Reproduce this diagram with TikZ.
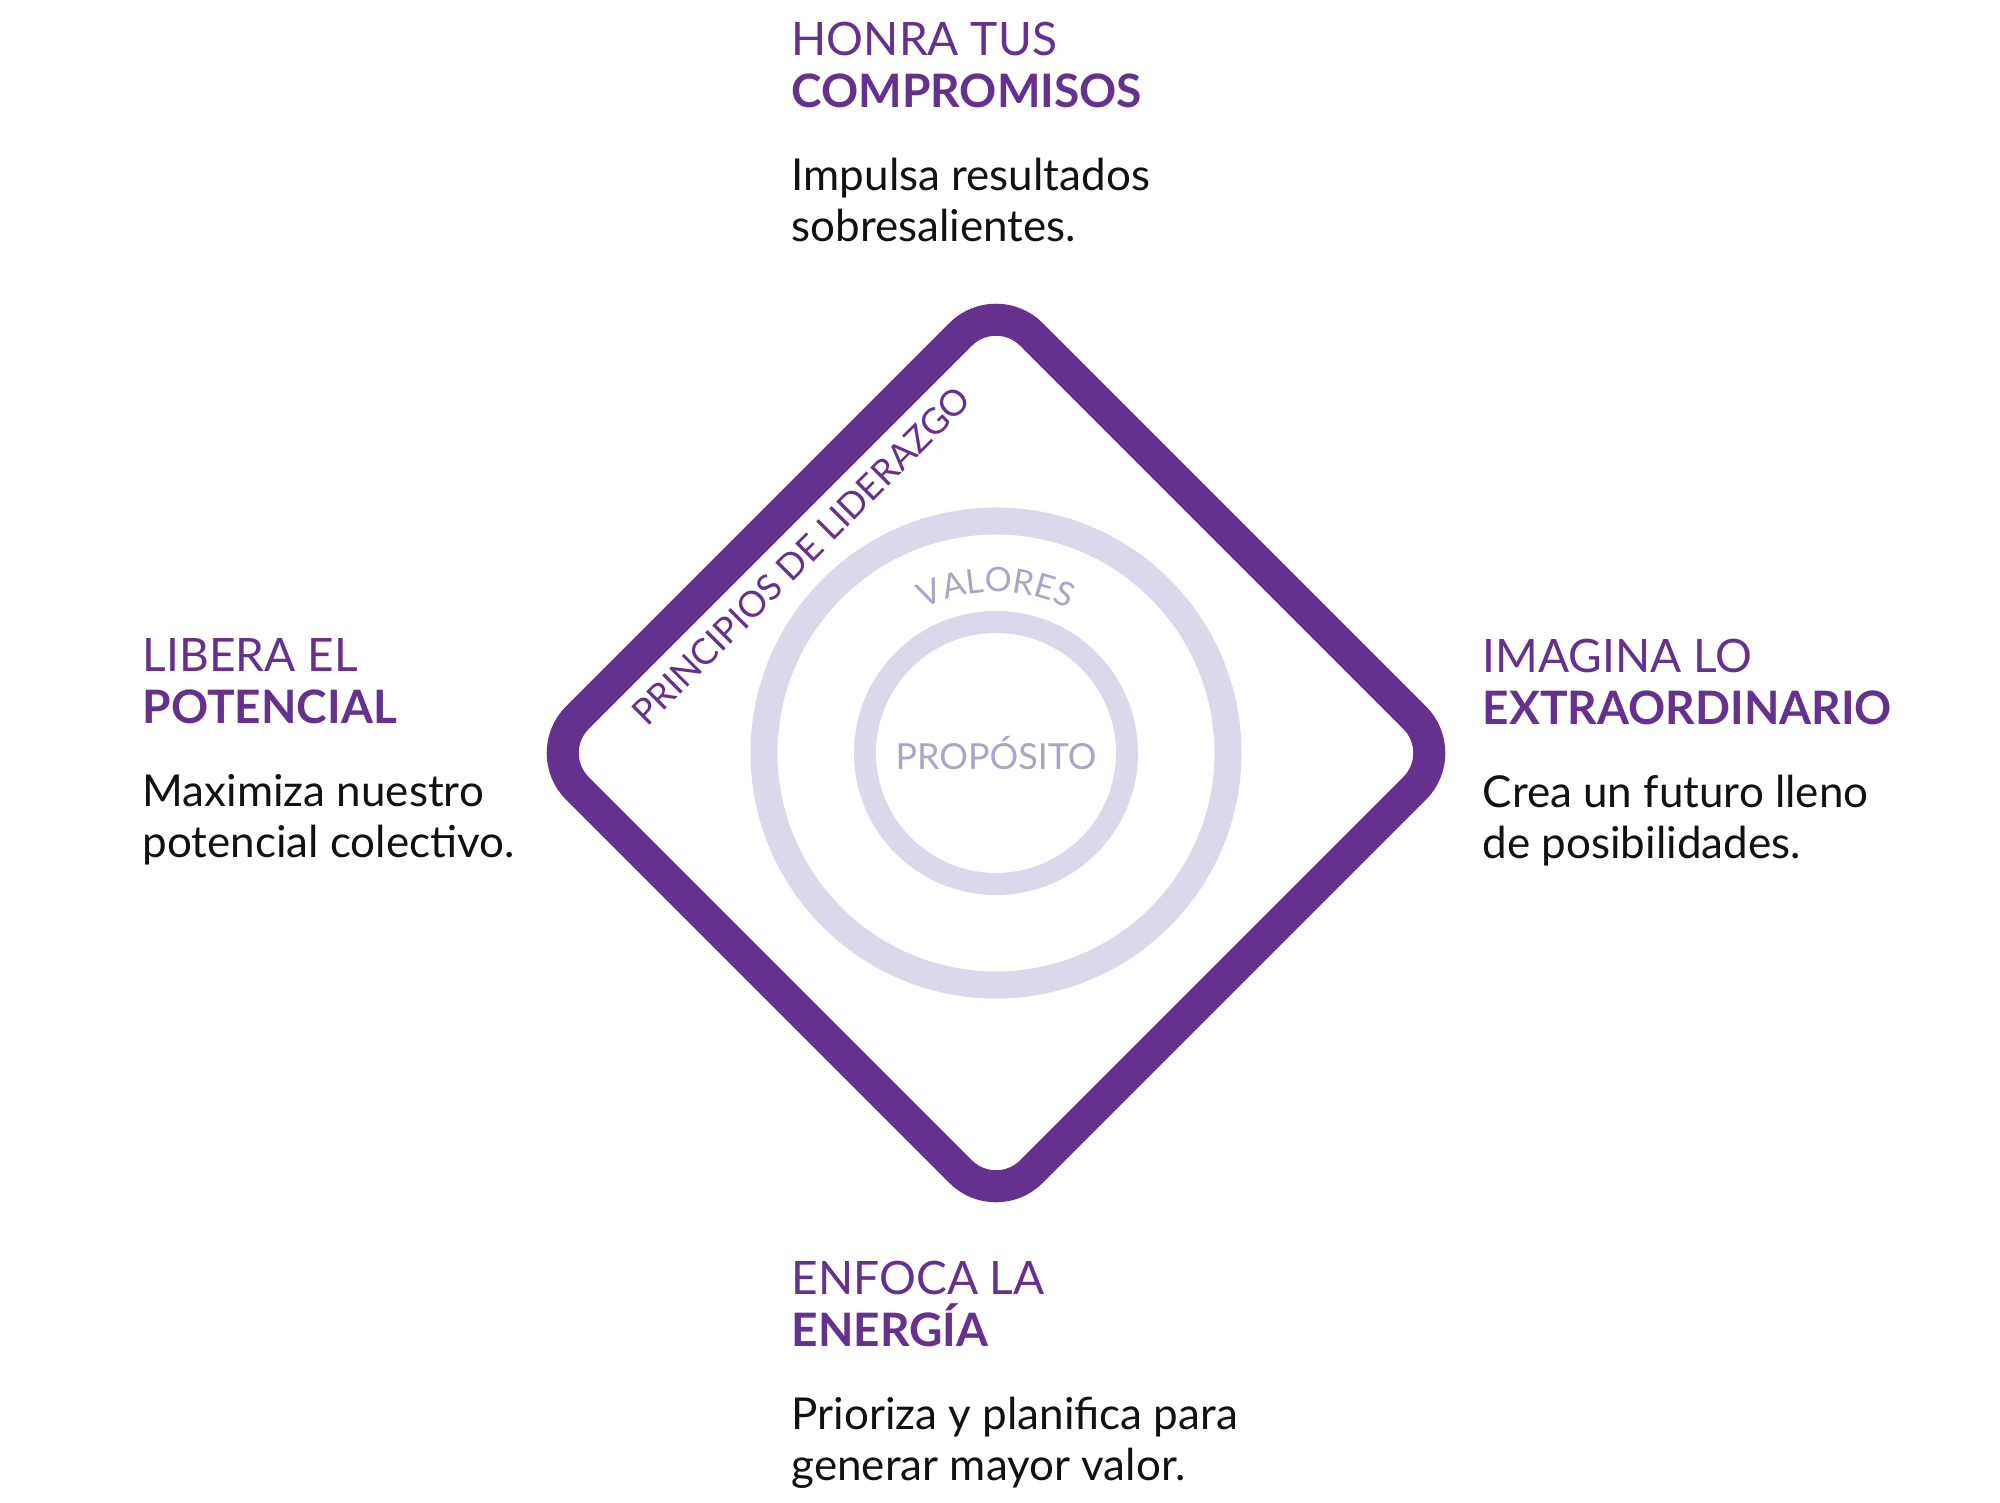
\documentclass[tikz,border=0pt]{standalone}
\usepackage{fontspec}
\setmainfont{Lato}
\usetikzlibrary{positioning, decorations.text}
\definecolor{PurpleA}{HTML}{66318E}
\definecolor{RingB}{HTML}{DAD8EB}
\definecolor{RingA}{HTML}{A9A5C8}
\definecolor{InkA}{HTML}{111111}
\tikzset{
  frame/.style={draw=PurpleA, line width=0.32cm, rounded corners=0.5cm,
                line join=round},
  ring/.style={draw=RingB},
  head/.style={anchor=north west, align=left, inner sep=0pt, text=PurpleA,
               font=\fontsize{13.1pt}{14.8pt}\selectfont},
  body/.style={align=left, inner sep=0pt, text=InkA,
               font=\fontsize{12.5pt}{14.6pt}\selectfont},
  ringlbl/.style={text=RingA, inner sep=0pt,
                  font=\fontsize{10.2pt}{12pt}\selectfont},
  edgelbl/.style={text=PurpleA, inner sep=0pt, rotate=45,
                  font=\fontsize{10.2pt}{12pt}\selectfont},
}

\begin{document}
\begin{tikzpicture}[x=0.01cm, y=0.01cm]
  \fill[white] (0,0) rectangle (2000,1502);
  \useasboundingbox (0,0) rectangle (2000,1502);
  \coordinate (ctr) at (996,749);

  % frame and rings
  \draw[frame] (769,976) -- (996,1203) -- (1450,749) -- (996,295)
        -- (542,749) -- cycle;
  \draw[ring, line width=0.27cm] (ctr) circle[radius=232];
  \draw[ring, line width=0.22cm] (ctr) circle[radius=131];

  \node[ringlbl] (proposito) at (ctr) {PROPÓSITO};
  \path[decorate, decoration={text along path, text align=center,
        text={|\color{RingA}\fontsize{9.6pt}{10pt}\selectfont|VALORES}}]
    (872.7,852.5) arc[start angle=140, end angle=40, radius=161];
  \node[edgelbl] (principios) at (801,946) {PRINCIPIOS DE LIDERAZGO};

  % the four principles
  \node[head] (honra) at (791,1481) {HONRA TUS\\\textbf{COMPROMISOS}};
  \node[body, below right=0.49cm and 0cm of honra.south west] (impulsa)
       {Impulsa resultados\\sobresalientes.};

  \node[head] (libera) at (142,864) {LIBERA EL\\\textbf{POTENCIAL}};
  \node[body, below right=0.49cm and 0cm of libera.south west] (maximiza)
       {Maximiza nuestro\\potencial colectivo.};

  \node[head] (imagina) at (1482,864) {IMAGINA LO\\\textbf{EXTRAORDINARIO}};
  \node[body, below right=0.49cm and 0cm of imagina.south west] (crea)
       {Crea un futuro lleno\\de posibilidades.};

  \node[head] (enfoca) at (791,242) {ENFOCA LA\\\textbf{ENERGÍA}};
  \node[body, below right=0.49cm and 0cm of enfoca.south west] (prioriza)
       {Prioriza y planifica para\\generar mayor valor.};
\end{tikzpicture}
\end{document}
